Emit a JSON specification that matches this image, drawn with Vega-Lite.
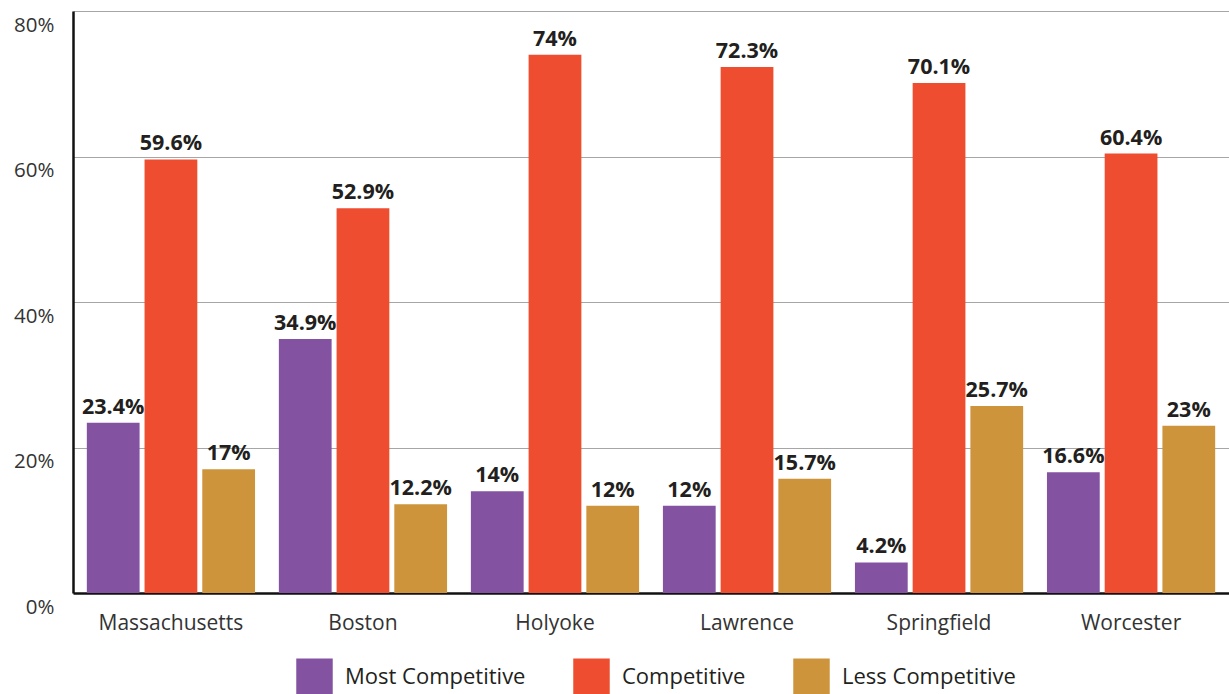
{
  "$schema": "https://vega.github.io/schema/vega-lite/v6.json",
  "width": 1156,
  "height": 582,
  "autosize": "none",
  "padding": {"left": 73, "top": 11, "right": 0, "bottom": 101},
  "background": "white",
  "data": {
    "values": [
      {"city": "Massachusetts", "cat": "Most Competitive", "v": 0.234},
      {"city": "Massachusetts", "cat": "Competitive", "v": 0.596},
      {"city": "Massachusetts", "cat": "Less Competitive", "v": 0.17},
      {"city": "Boston", "cat": "Most Competitive", "v": 0.349},
      {"city": "Boston", "cat": "Competitive", "v": 0.529},
      {"city": "Boston", "cat": "Less Competitive", "v": 0.122},
      {"city": "Holyoke", "cat": "Most Competitive", "v": 0.14},
      {"city": "Holyoke", "cat": "Competitive", "v": 0.74},
      {"city": "Holyoke", "cat": "Less Competitive", "v": 0.12},
      {"city": "Lawrence", "cat": "Most Competitive", "v": 0.12},
      {"city": "Lawrence", "cat": "Competitive", "v": 0.723},
      {"city": "Lawrence", "cat": "Less Competitive", "v": 0.157},
      {"city": "Springfield", "cat": "Most Competitive", "v": 0.042},
      {"city": "Springfield", "cat": "Competitive", "v": 0.701},
      {"city": "Springfield", "cat": "Less Competitive", "v": 0.257},
      {"city": "Worcester", "cat": "Most Competitive", "v": 0.166},
      {"city": "Worcester", "cat": "Competitive", "v": 0.604},
      {"city": "Worcester", "cat": "Less Competitive", "v": 0.23}
    ]
  },
  "encoding": {
    "x": {
      "field": "city",
      "type": "nominal",
      "sort": ["Massachusetts", "Boston", "Holyoke", "Lawrence", "Springfield", "Worcester"],
      "scale": {"paddingInner": 0.1, "paddingOuter": 0.06},
      "title": null,
      "axis": {
        "labelAngle": 0,
        "ticks": false,
        "domainColor": "#111111",
        "domainWidth": 2.5,
        "labelFont": "Open Sans",
        "labelFontSize": 21,
        "labelColor": "#333333",
        "labelPadding": 19,
        "labelLimit": 300,
        "grid": false
      }
    },
    "xOffset": {
      "field": "cat",
      "type": "nominal",
      "sort": ["Most Competitive", "Competitive", "Less Competitive"],
      "scale": {"paddingInner": 0.086, "paddingOuter": 0.04}
    },
    "y": {
      "field": "v",
      "type": "quantitative",
      "scale": {"domain": [0, 0.8], "nice": false},
      "title": null,
      "axis": {
        "values": [0, 0.2, 0.4, 0.6, 0.8],
        "format": "~%",
        "ticks": false,
        "domainColor": "#111111",
        "domainWidth": 2.5,
        "gridColor": "#a6a6a6",
        "gridWidth": 1,
        "labelFont": "Open Sans",
        "labelFontSize": 20.5,
        "labelColor": "#333333",
        "labelPadding": 19,
        "labelOffset": 14
      }
    }
  },
  "layer": [
    {
      "mark": {"type": "bar"},
      "encoding": {
        "color": {
          "field": "cat",
          "type": "nominal",
          "sort": ["Most Competitive", "Competitive", "Less Competitive"],
          "scale": {
            "domain": ["Most Competitive", "Competitive", "Less Competitive"],
            "range": ["#8352a1", "#ee4d2f", "#cd943b"]
          },
          "legend": {
            "title": null,
            "orient": "none",
            "direction": "horizontal",
            "legendX": 223,
            "legendY": 647,
            "padding": 0,
            "symbolType": "square",
            "symbolSize": 1330,
            "symbolStrokeWidth": 0,
            "symbolOpacity": 1,
            "labelFont": "Open Sans",
            "labelFontSize": 22,
            "labelColor": "#231f20",
            "labelOffset": 12,
            "labelLimit": 400,
            "columnPadding": 47
          }
        }
      }
    },
    {
      "mark": {
        "type": "text",
        "baseline": "bottom",
        "dy": -4,
        "font": "Open Sans",
        "fontWeight": "bold",
        "fontSize": 21.5,
        "color": "#231f20"
      },
      "encoding": {
        "text": {"field": "v", "type": "quantitative", "format": ".3~%"}
      }
    }
  ],
  "config": {"view": {"stroke": null}}
}
